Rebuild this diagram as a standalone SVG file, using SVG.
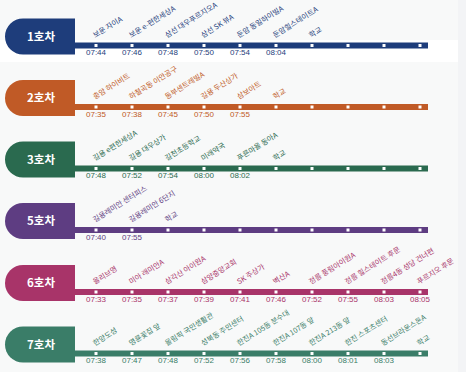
<svg xmlns="http://www.w3.org/2000/svg" width="466" height="372" viewBox="0 0 466 372">
<style>
.bt{font-family:"Noto Sans CJK KR","Liberation Sans",sans-serif;font-size:11.5px;font-weight:bold;fill:#fff;text-anchor:middle}
.lb{font-family:"Noto Sans CJK KR","Liberation Sans",sans-serif;font-size:7.3px}
.tm{font-family:"Liberation Sans",Arial,sans-serif;font-size:8px;text-anchor:middle}
.mk{fill:#fff}
.c1{fill:#1e3d7b}.c2{fill:#c05a26}.c3{fill:#2a6a4f}.c5{fill:#5e3d82}.c6{fill:#a83469}.c7{fill:#3a7d68}
</style>
<rect width="466" height="372" fill="#f8f9f9"/>
<rect x="458" y="0" width="8" height="372" fill="#f3f4f6"/>
<rect x="0" y="40" width="458" height="22" fill="#ffffff"/>
<g id="connectors">
<rect class="c1" x="75" y="42.5" width="353" height="6"/>
<rect class="c2" x="75" y="104" width="353" height="6"/>
<rect class="c3" x="75" y="165.5" width="353" height="6"/>
<rect class="c5" x="75" y="227" width="353" height="6"/>
<rect class="c6" x="75" y="289" width="353" height="6"/>
<rect class="c7" x="75" y="350.5" width="353" height="6"/>
</g>
<g id="route1">
<path class="c1" d="M75,18.5H23A18,18 0 0 0 5,36.5A18,18 0 0 0 23,54.5H75Z"/>
<text class="bt" x="41" y="40.5">1호차</text>
<g class="c1">
<rect class="mk" x="94.5" y="44" width="3" height="3"/><rect class="mk" x="130.5" y="44" width="3" height="3"/><rect class="mk" x="166.5" y="44" width="3" height="3"/><rect class="mk" x="202.5" y="44" width="3" height="3"/><rect class="mk" x="238.5" y="44" width="3" height="3"/><rect class="mk" x="274.5" y="44" width="3" height="3"/><rect class="mk" x="310.5" y="44" width="3" height="3"/><rect class="mk" x="346.5" y="44" width="3" height="3"/><rect class="mk" x="382.5" y="44" width="3" height="3"/><rect class="mk" x="418.5" y="44" width="3" height="3"/>
<text class="lb" transform="translate(95,38) rotate(-32)">보운 자이A</text>
<text class="lb" transform="translate(131,38) rotate(-32)">보운 e-편한세상A</text>
<text class="lb" transform="translate(167,38) rotate(-32)">삼선 대우푸르지오A</text>
<text class="lb" transform="translate(203,38) rotate(-32)">삼선 SK 뷰A</text>
<text class="lb" transform="translate(239,38) rotate(-32)">둔암 동일하이빌A</text>
<text class="lb" transform="translate(275,38) rotate(-32)">둔암힐스테이트A</text>
<text class="lb" transform="translate(311,38) rotate(-32)">학교</text>
<text class="tm" x="96" y="55">07:44</text><text class="tm" x="132" y="55">07:46</text><text class="tm" x="168" y="55">07:48</text><text class="tm" x="204" y="55">07:50</text><text class="tm" x="240" y="55">07:54</text><text class="tm" x="276" y="55">08:04</text>
</g>
</g>
<g id="route2">
<path class="c2" d="M75,80H23A18,18 0 0 0 5,98A18,18 0 0 0 23,116H75Z"/>
<text class="bt" x="41" y="102">2호차</text>
<g class="c2">
<rect class="mk" x="94.5" y="105.5" width="3" height="3"/><rect class="mk" x="130.5" y="105.5" width="3" height="3"/><rect class="mk" x="166.5" y="105.5" width="3" height="3"/><rect class="mk" x="202.5" y="105.5" width="3" height="3"/><rect class="mk" x="238.5" y="105.5" width="3" height="3"/><rect class="mk" x="274.5" y="105.5" width="3" height="3"/><rect class="mk" x="310.5" y="105.5" width="3" height="3"/><rect class="mk" x="346.5" y="105.5" width="3" height="3"/><rect class="mk" x="382.5" y="105.5" width="3" height="3"/><rect class="mk" x="418.5" y="105.5" width="3" height="3"/>
<text class="lb" transform="translate(95,99.5) rotate(-32)">충암 하이비트</text>
<text class="lb" transform="translate(131,99.5) rotate(-32)">하철곡동 이안공구</text>
<text class="lb" transform="translate(167,99.5) rotate(-32)">동부센트레빌A</text>
<text class="lb" transform="translate(203,99.5) rotate(-32)">길용 두산상가</text>
<text class="lb" transform="translate(239,99.5) rotate(-32)">삼보아트</text>
<text class="lb" transform="translate(275,99.5) rotate(-32)">학교</text>
<text class="tm" x="96" y="116.5">07:35</text><text class="tm" x="132" y="116.5">07:38</text><text class="tm" x="168" y="116.5">07:45</text><text class="tm" x="204" y="116.5">07:50</text><text class="tm" x="240" y="116.5">07:55</text>
</g>
</g>
<g id="route3">
<path class="c3" d="M75,141.5H23A18,18 0 0 0 5,159.5A18,18 0 0 0 23,177.5H75Z"/>
<text class="bt" x="41" y="163.5">3호차</text>
<g class="c3">
<rect class="mk" x="94.5" y="167" width="3" height="3"/><rect class="mk" x="130.5" y="167" width="3" height="3"/><rect class="mk" x="166.5" y="167" width="3" height="3"/><rect class="mk" x="202.5" y="167" width="3" height="3"/><rect class="mk" x="238.5" y="167" width="3" height="3"/><rect class="mk" x="274.5" y="167" width="3" height="3"/><rect class="mk" x="310.5" y="167" width="3" height="3"/><rect class="mk" x="346.5" y="167" width="3" height="3"/><rect class="mk" x="382.5" y="167" width="3" height="3"/><rect class="mk" x="418.5" y="167" width="3" height="3"/>
<text class="lb" transform="translate(95,161) rotate(-32)">길용 e편한세상A</text>
<text class="lb" transform="translate(131,161) rotate(-32)">길용 대우상가</text>
<text class="lb" transform="translate(167,161) rotate(-32)">길천초등학교</text>
<text class="lb" transform="translate(203,161) rotate(-32)">미래약국</text>
<text class="lb" transform="translate(239,161) rotate(-32)">푸른마을 동아A</text>
<text class="lb" transform="translate(275,161) rotate(-32)">학교</text>
<text class="tm" x="96" y="178">07:48</text><text class="tm" x="132" y="178">07:52</text><text class="tm" x="168" y="178">07:54</text><text class="tm" x="204" y="178">08:00</text><text class="tm" x="240" y="178">08:02</text>
</g>
</g>
<g id="route5">
<path class="c5" d="M75,203H23A18,18 0 0 0 5,221A18,18 0 0 0 23,239H75Z"/>
<text class="bt" x="41" y="225">5호차</text>
<g class="c5">
<rect class="mk" x="94.5" y="228.5" width="3" height="3"/><rect class="mk" x="130.5" y="228.5" width="3" height="3"/><rect class="mk" x="166.5" y="228.5" width="3" height="3"/><rect class="mk" x="202.5" y="228.5" width="3" height="3"/><rect class="mk" x="238.5" y="228.5" width="3" height="3"/><rect class="mk" x="274.5" y="228.5" width="3" height="3"/><rect class="mk" x="310.5" y="228.5" width="3" height="3"/><rect class="mk" x="346.5" y="228.5" width="3" height="3"/><rect class="mk" x="382.5" y="228.5" width="3" height="3"/><rect class="mk" x="418.5" y="228.5" width="3" height="3"/>
<text class="lb" transform="translate(95,222.5) rotate(-32)">길용레미안 센터피스</text>
<text class="lb" transform="translate(131,222.5) rotate(-32)">길용레미안 6단지</text>
<text class="lb" transform="translate(167,222.5) rotate(-32)">학교</text>
<text class="tm" x="96" y="239.5">07:40</text><text class="tm" x="132" y="239.5">07:55</text>
</g>
</g>
<g id="route6">
<path class="c6" d="M75,265H23A18,18 0 0 0 5,283A18,18 0 0 0 23,301H75Z"/>
<text class="bt" x="41" y="287">6호차</text>
<g class="c6">
<rect class="mk" x="94.5" y="290.5" width="3" height="3"/><rect class="mk" x="130.5" y="290.5" width="3" height="3"/><rect class="mk" x="166.5" y="290.5" width="3" height="3"/><rect class="mk" x="202.5" y="290.5" width="3" height="3"/><rect class="mk" x="238.5" y="290.5" width="3" height="3"/><rect class="mk" x="274.5" y="290.5" width="3" height="3"/><rect class="mk" x="310.5" y="290.5" width="3" height="3"/><rect class="mk" x="346.5" y="290.5" width="3" height="3"/><rect class="mk" x="382.5" y="290.5" width="3" height="3"/><rect class="mk" x="418.5" y="290.5" width="3" height="3"/>
<text class="lb" transform="translate(95,284.5) rotate(-32)">올리브영</text>
<text class="lb" transform="translate(131,284.5) rotate(-32)">미아 래미안A</text>
<text class="lb" transform="translate(167,284.5) rotate(-32)">삼각산 아이원A</text>
<text class="lb" transform="translate(203,284.5) rotate(-32)">삼양중앙교회</text>
<text class="lb" transform="translate(239,284.5) rotate(-32)">SK 주상가</text>
<text class="lb" transform="translate(275,284.5) rotate(-32)">벽산A</text>
<text class="lb" transform="translate(311,284.5) rotate(-32)">정릉 풍림아이원A</text>
<text class="lb" transform="translate(347,284.5) rotate(-32)">정릉 힐스테이트 후문</text>
<text class="lb" transform="translate(383,284.5) rotate(-32)">정릉4동 성당 건너편</text>
<text class="lb" transform="translate(419,284.5) rotate(-32)">푸르지오 후문</text>
<text class="tm" x="96" y="301.5">07:33</text><text class="tm" x="132" y="301.5">07:35</text><text class="tm" x="168" y="301.5">07:37</text><text class="tm" x="204" y="301.5">07:39</text><text class="tm" x="240" y="301.5">07:41</text><text class="tm" x="276" y="301.5">07:46</text><text class="tm" x="312" y="301.5">07:52</text><text class="tm" x="348" y="301.5">07:55</text><text class="tm" x="384" y="301.5">08:03</text><text class="tm" x="420" y="301.5">08:05</text>
</g>
</g>
<g id="route7">
<path class="c7" d="M75,326.5H23A18,18 0 0 0 5,344.5A18,18 0 0 0 23,362.5H75Z"/>
<text class="bt" x="41" y="348.5">7호차</text>
<g class="c7">
<rect class="mk" x="94.5" y="352" width="3" height="3"/><rect class="mk" x="130.5" y="352" width="3" height="3"/><rect class="mk" x="166.5" y="352" width="3" height="3"/><rect class="mk" x="202.5" y="352" width="3" height="3"/><rect class="mk" x="238.5" y="352" width="3" height="3"/><rect class="mk" x="274.5" y="352" width="3" height="3"/><rect class="mk" x="310.5" y="352" width="3" height="3"/><rect class="mk" x="346.5" y="352" width="3" height="3"/><rect class="mk" x="382.5" y="352" width="3" height="3"/><rect class="mk" x="418.5" y="352" width="3" height="3"/>
<text class="lb" transform="translate(95,346) rotate(-32)">한양도성</text>
<text class="lb" transform="translate(131,346) rotate(-32)">명륜꽃집 앞</text>
<text class="lb" transform="translate(167,346) rotate(-32)">올림픽 국민생활관</text>
<text class="lb" transform="translate(203,346) rotate(-32)">성북동 주민센터</text>
<text class="lb" transform="translate(239,346) rotate(-32)">한진A 105동 분수대</text>
<text class="lb" transform="translate(275,346) rotate(-32)">한진A 107동 앞</text>
<text class="lb" transform="translate(311,346) rotate(-32)">한진A 213동 앞</text>
<text class="lb" transform="translate(347,346) rotate(-32)">한진 스포츠센터</text>
<text class="lb" transform="translate(383,346) rotate(-32)">동선브라운스톤A</text>
<text class="lb" transform="translate(419,346) rotate(-32)">학교</text>
<text class="tm" x="96" y="363">07:38</text><text class="tm" x="132" y="363">07:47</text><text class="tm" x="168" y="363">07:48</text><text class="tm" x="204" y="363">07:52</text><text class="tm" x="240" y="363">07:56</text><text class="tm" x="276" y="363">07:58</text><text class="tm" x="312" y="363">08:00</text><text class="tm" x="348" y="363">08:01</text><text class="tm" x="384" y="363">08:03</text>
</g>
</g>
</svg>
